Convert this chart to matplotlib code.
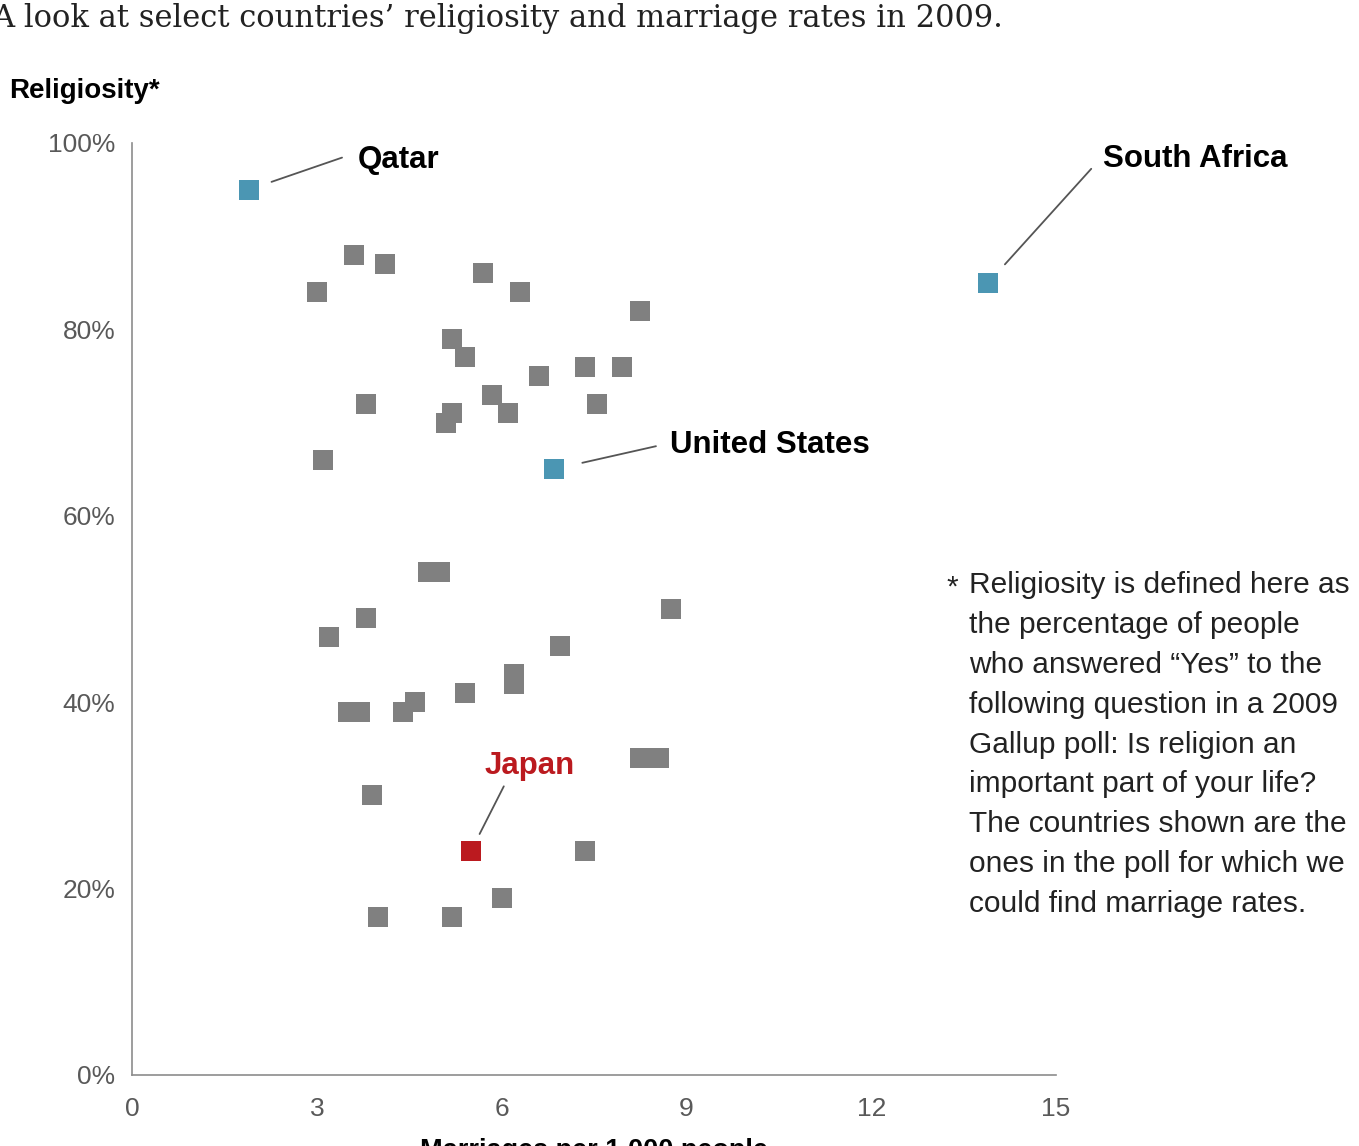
import matplotlib
matplotlib.use("Agg")
import matplotlib.pyplot as plt

plt.rcParams['font.family'] = ['Liberation Sans', 'DejaVu Sans']

# marriage rate (per 1,000 people) and religiosity (%) for the unlabeled countries
other_rate = [3.6, 4.1, 3.0, 5.7, 6.3, 8.25, 5.2, 5.4, 6.6, 7.35, 7.95, 3.8, 7.55,
              5.85, 6.1, 5.2, 5.1, 3.1,
              4.8, 5.0, 8.75, 3.8, 3.2, 6.95, 6.2, 6.2, 5.4, 3.5, 3.7, 4.6, 4.4,
              8.25, 8.55, 3.9, 7.35, 6.0, 4.0, 5.2]
other_relig = [88, 87, 84, 86, 84, 82, 79, 77, 75, 76, 76, 72, 72,
               73, 71, 71, 70, 66,
               54, 54, 50, 49, 47, 46, 43, 42, 41, 39, 39, 40, 39,
               34, 34, 30, 24, 19, 17, 17]

# highlighted countries
hl_names = ['Qatar', 'South Africa', 'United States', 'Japan']
hl_rate = [1.9, 13.9, 6.85, 5.5]
hl_relig = [95, 85, 65, 24]
hl_colors = ['#4b96b3', '#4b96b3', '#4b96b3', '#bb1a1f']
hl_text_colors = ['black', 'black', 'black', '#bb1a1f']

# label offsets in pixels from the point: text anchor, leader near end, leader far end
label_off = [(109, 30), (115, 124), (116, 24), (14, 85)]
line_near = [(22, 9), (16, 19), (29, 2), (4, 19)]
line_far = [(93, 32), (103, 114), (102, 23), (33, 65)]

x_ticks = [0, 3, 6, 9, 12, 15]
y_ticks = [0, 20, 40, 60, 80, 100]

fig = plt.figure(figsize=(13.59, 11.46), dpi=100)
ax = fig.add_axes([132 / 1359, 71 / 1146, 924 / 1359, 932 / 1146])

ax.plot(other_rate, other_relig, 's', color='#808080', markersize=14.4,
        markeredgewidth=0, linestyle='none')
for i in range(len(hl_names)):
    ax.plot(hl_rate[i], hl_relig[i], 's', color=hl_colors[i], markersize=14.4,
            markeredgewidth=0, zorder=3)
    # leader line: from far end toward the point, stopping short of the marker
    nx, ny = line_near[i]
    fx, fy = line_far[i]
    ax.annotate('', xy=(hl_rate[i], hl_relig[i]), xytext=(fx, fy),
                textcoords='offset pixels', annotation_clip=False,
                arrowprops=dict(arrowstyle='-', color='#555555', lw=1.3,
                                shrinkA=0, shrinkB=(nx ** 2 + ny ** 2) ** 0.5 * 0.72))
    ax.annotate(hl_names[i], xy=(hl_rate[i], hl_relig[i]), xytext=label_off[i],
                textcoords='offset pixels', ha='left', va='center',
                fontsize=22.5, fontweight='bold', color=hl_text_colors[i],
                annotation_clip=False)

ax.set_xlim(0, 15)
ax.set_ylim(0, 100)
ax.set_xticks(x_ticks)
ax.set_xticklabels([str(t) for t in x_ticks])
ax.set_yticks(y_ticks)
ax.set_yticklabels([f'{t}%' for t in y_ticks])
ax.tick_params(length=0, labelsize=19, labelcolor='#595959')
ax.tick_params(axis='x', pad=16)
ax.tick_params(axis='y', pad=12)
for side in ['top', 'right']:
    ax.spines[side].set_visible(False)
for side in ['left', 'bottom']:
    ax.spines[side].set_color('#8c8c8c')
    ax.spines[side].set_linewidth(1.2)

fig.text(-8 / 1359, 1 - 18 / 1146, 'A look at select countries\u2019 religiosity and marriage rates in 2009.',
         family='DejaVu Serif', fontsize=22, color='#222222', ha='left', va='center')
fig.text(9 / 1359, 1 - 91 / 1146, 'Religiosity*', fontsize=20, fontweight='bold',
         ha='left', va='center')
fig.text(594 / 1359, 1 - 1138 / 1146, 'Marriages per 1,000 people', fontsize=19.5,
         fontweight='bold', ha='center', va='top')

note = ('Religiosity is defined here as\nthe percentage of people\n'
        'who answered \u201cYes\u201d to the\nfollowing question in a 2009\n'
        'Gallup poll: Is religion an\nimportant part of your life?\n'
        'The countries shown are the\nones in the poll for which we\n'
        'could find marriage rates.')
fig.text(946 / 1359, 1 - 588 / 1146, '*', fontsize=21.5, color='#222222',
         ha='left', va='center')
fig.text(969 / 1359, 1 - 571 / 1146, note, fontsize=21.5, color='#222222',
         ha='left', va='top', linespacing=1.54)

fig.savefig('out.png', dpi=100)
